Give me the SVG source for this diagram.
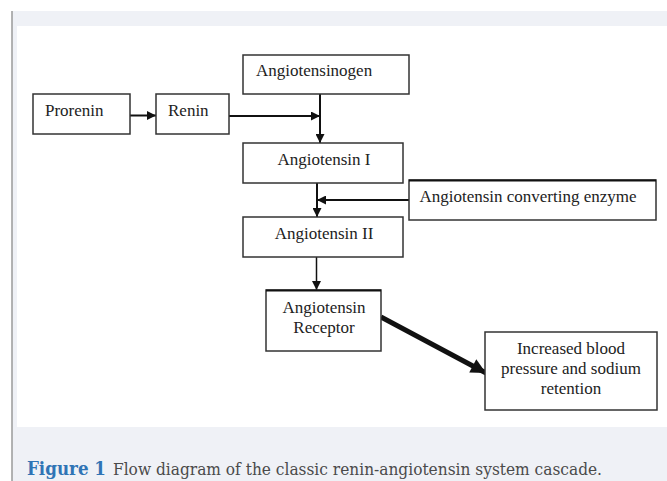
<svg xmlns="http://www.w3.org/2000/svg" width="667" height="481" viewBox="0 0 667 481">
<defs>
<style>
.box{fill:#ffffff;stroke:#333333;stroke-width:1.5}
.t{font-family:"Liberation Serif","Times New Roman",serif;font-size:17px;fill:#222222}
.c{text-anchor:middle}
.ln{fill:none;stroke:#111111;stroke-width:2}
.thin{stroke-width:1.5}
.thick{stroke-width:5}
</style>
<marker id="ah" viewBox="0 0 10 10" refX="10" refY="5" markerWidth="9" markerHeight="9" markerUnits="userSpaceOnUse" orient="auto">
<path d="M0,0 L10,5 L0,10 z" fill="#111111"/>
</marker>
<marker id="ahb" viewBox="0 0 10 10" refX="10" refY="5" markerWidth="16" markerHeight="15" markerUnits="userSpaceOnUse" orient="auto">
<path d="M0,0 L10,5 L0,10 z" fill="#111111"/>
</marker>
</defs>
<rect x="0" y="0" width="667" height="481" fill="#ffffff"/>
<rect x="12" y="11" width="655" height="470" fill="#eff1f6"/>
<line x1="12" y1="11" x2="12" y2="481" stroke="#9a9a9a" stroke-width="1.5"/>
<rect x="17" y="26" width="650" height="401" fill="#ffffff"/>

<g id="connectors">
<line class="ln" x1="130" y1="115.5" x2="156" y2="115.5" marker-end="url(#ah)"/>
<line class="ln" x1="229" y1="116" x2="320" y2="116" marker-end="url(#ah)"/>
<line class="ln" x1="320" y1="94" x2="320" y2="143" marker-end="url(#ah)"/>
<line class="ln" x1="409" y1="200" x2="317" y2="200" marker-end="url(#ah)"/>
<line class="ln" x1="317" y1="183" x2="317" y2="217" marker-end="url(#ah)"/>
<line class="ln thin" x1="316.5" y1="257" x2="316.5" y2="290" marker-end="url(#ah)"/>
<line class="ln thick" x1="381" y1="317" x2="486" y2="373" marker-end="url(#ahb)"/>
</g>

<g id="prorenin">
<rect class="box" x="33" y="94" width="97" height="40"/>
<text class="t" x="45" y="116">Prorenin</text>
</g>
<g id="renin">
<rect class="box" x="156" y="94" width="73" height="40"/>
<text class="t" x="168" y="116">Renin</text>
</g>
<g id="angiotensinogen">
<rect class="box" x="243" y="55" width="166" height="39"/>
<text class="t" x="256" y="76">Angiotensinogen</text>
</g>
<g id="angiotensin1">
<rect class="box" x="243" y="143" width="160" height="40"/>
<text class="t c" x="324" y="165">Angiotensin I</text>
</g>
<g id="ace">
<rect class="box" x="409" y="180" width="247" height="40"/>
<line x1="409" y1="180.5" x2="656" y2="180.5" stroke="#111111" stroke-width="2"/>
<text class="t c" x="528" y="202">Angiotensin converting enzyme</text>
</g>
<g id="angiotensin2">
<rect class="box" x="243" y="217" width="160" height="40"/>
<text class="t c" x="324" y="239">Angiotensin II</text>
</g>
<g id="receptor">
<rect class="box" x="266" y="290" width="115" height="61"/>
<line x1="266" y1="290.5" x2="381" y2="290.5" stroke="#111111" stroke-width="2"/>
<text class="t c" x="324" y="313">Angiotensin</text>
<text class="t c" x="324" y="333">Receptor</text>
</g>
<g id="effect">
<rect class="box" x="485" y="332" width="172" height="78"/>
<text class="t c" x="571" y="354">Increased blood</text>
<text class="t c" x="571" y="374">pressure and sodium</text>
<text class="t c" x="571" y="394">retention</text>
</g>

<g id="caption">
<text x="27" y="475" font-family="'DejaVu Serif','Liberation Serif',serif" font-size="19" font-weight="bold" fill="#2f74b5" textLength="79" lengthAdjust="spacingAndGlyphs">Figure 1</text>
<text x="113" y="475" font-family="'DejaVu Serif','Liberation Serif',serif" font-size="16" fill="#4a4a4a" textLength="489" lengthAdjust="spacingAndGlyphs">Flow diagram of the classic renin-angiotensin system cascade.</text>
</g>
</svg>
